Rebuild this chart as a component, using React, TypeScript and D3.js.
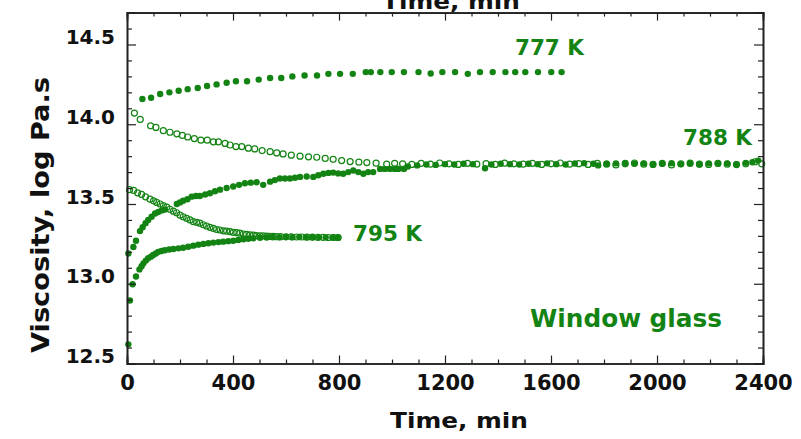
import React, { useEffect, useRef } from "react";
import { axisBottom, axisLeft, axisRight, axisTop, scaleLinear, select, range } from "d3";

// [time (min), viscosity (log Pa.s)]
const up777: [number, number][] = [
  [58, 14.158], [91, 14.166], [125, 14.19], [160, 14.2], [195, 14.21], [229, 14.22], [267, 14.227],
  [302, 14.24], [338, 14.25], [376, 14.26], [411, 14.27], [453, 14.27], [497, 14.28], [540, 14.29],
  [582, 14.29], [624, 14.3], [670, 14.306], [717, 14.306], [760, 14.316], [804, 14.316], [852, 14.316],
  [901, 14.327], [920, 14.327], [956, 14.327], [999, 14.327], [1045, 14.327], [1100, 14.327],
  [1146, 14.318], [1190, 14.327], [1238, 14.327], [1286, 14.316], [1332, 14.327], [1380, 14.327],
  [1428, 14.327], [1465, 14.327], [1503, 14.327], [1551, 14.327], [1601, 14.327], [1640, 14.327],
];

const down788: [number, number][] = [
  [28, 14.07], [50, 14.03], [89, 13.99], [109, 13.98], [137, 13.96], [162, 13.95], [188, 13.94],
  [209, 13.93], [229, 13.92], [254, 13.91], [279, 13.9], [303, 13.9], [326, 13.89], [345, 13.89],
  [370, 13.88], [389, 13.87], [411, 13.86], [433, 13.86], [458, 13.85], [482, 13.845], [510, 13.835],
  [540, 13.828], [565, 13.82], [589, 13.814], [620, 13.806], [653, 13.8], [685, 13.796], [716, 13.793],
  [748, 13.786], [778, 13.78], [810, 13.772], [842, 13.766], [875, 13.762], [905, 13.76], [940, 13.756],
  [980, 13.75], [1010, 13.755], [1040, 13.752], [1075, 13.748], [1110, 13.755], [1145, 13.75],
  [1180, 13.757], [1215, 13.752], [1250, 13.748], [1285, 13.755], [1320, 13.75], [1355, 13.753],
  [1390, 13.748], [1425, 13.756], [1460, 13.752], [1495, 13.75], [1530, 13.755], [1565, 13.748],
  [1600, 13.752], [1635, 13.757], [1670, 13.75], [1705, 13.753], [1740, 13.748], [1775, 13.755],
  [1810, 13.75], [1845, 13.745], [1880, 13.752], [1915, 13.757], [1950, 13.75], [1985, 13.748],
  [2020, 13.755], [2055, 13.745], [2090, 13.752], [2125, 13.756], [2160, 13.75], [2195, 13.748],
  [2230, 13.755], [2265, 13.75], [2300, 13.747], [2335, 13.752], [2370, 13.765], [2395, 13.752],
];

const up788: [number, number][] = [
  [5, 13.19], [24, 13.23], [34, 13.27], [49, 13.33], [59, 13.354], [70, 13.38], [80, 13.4], [93, 13.42],
  [106, 13.44], [118, 13.45], [131, 13.46], [143, 13.465], [188, 13.5], [200, 13.51], [212, 13.52],
  [228, 13.53], [244, 13.546], [260, 13.55], [275, 13.55], [295, 13.56], [313, 13.567], [332, 13.58],
  [351, 13.59], [376, 13.6], [401, 13.61], [423, 13.62], [445, 13.63], [467, 13.634], [489, 13.636],
  [514, 13.62], [540, 13.64], [558, 13.65], [577, 13.66], [596, 13.66], [615, 13.66], [634, 13.665],
  [653, 13.67], [678, 13.672], [703, 13.67], [722, 13.68], [741, 13.69], [760, 13.695], [778, 13.697],
  [797, 13.692], [816, 13.69], [835, 13.7], [854, 13.71], [873, 13.7], [892, 13.69], [910, 13.7],
  [929, 13.7], [955, 13.72], [973, 13.72], [992, 13.72], [1010, 13.72], [1024, 13.72], [1045, 13.72],
  [1060, 13.735], [1095, 13.742], [1130, 13.748], [1165, 13.745], [1200, 13.75], [1235, 13.748],
  [1270, 13.752], [1305, 13.75], [1351, 13.724], [1375, 13.748], [1410, 13.752], [1445, 13.75],
  [1480, 13.748], [1515, 13.752], [1550, 13.75], [1585, 13.755], [1620, 13.75], [1655, 13.748],
  [1690, 13.754], [1725, 13.756], [1760, 13.752], [1778, 13.742], [1810, 13.752], [1845, 13.755],
  [1880, 13.757], [1915, 13.752], [1950, 13.755], [1985, 13.75], [2020, 13.752], [2055, 13.756],
  [2090, 13.75], [2125, 13.753], [2160, 13.748], [2195, 13.755], [2230, 13.752], [2265, 13.755],
  [2300, 13.75], [2335, 13.758], [2360, 13.762], [2382, 13.772],
];

const down795: [number, number][] = [
  [10, 13.59], [25, 13.585], [40, 13.57], [55, 13.56], [70, 13.545], [87, 13.53], [100, 13.52],
  [112, 13.51], [125, 13.5], [137, 13.49], [150, 13.48], [162, 13.467], [175, 13.455], [187, 13.445],
  [200, 13.43], [212, 13.42], [225, 13.41], [238, 13.4], [250, 13.39], [263, 13.385], [275, 13.38],
  [288, 13.37], [300, 13.362], [313, 13.354], [326, 13.347], [338, 13.34], [351, 13.337], [364, 13.332],
  [376, 13.33], [389, 13.327], [401, 13.322], [414, 13.32], [426, 13.317], [439, 13.312], [451, 13.31],
  [464, 13.306], [477, 13.305], [489, 13.302], [502, 13.3], [514, 13.3], [527, 13.298], [540, 13.297],
  [552, 13.297], [565, 13.295], [580, 13.295], [600, 13.294], [620, 13.294], [640, 13.293],
  [660, 13.293], [680, 13.292], [700, 13.292], [720, 13.291], [740, 13.291], [760, 13.29],
  [780, 13.29], [797, 13.29],
];

const up795: [number, number][] = [
  [5, 12.62], [11, 12.895], [21, 12.997], [34, 13.045], [47, 13.09], [55, 13.11], [62, 13.128],
  [71, 13.145], [80, 13.16], [90, 13.17], [99, 13.18], [109, 13.19], [118, 13.2], [130, 13.205],
  [143, 13.21], [159, 13.215], [175, 13.218], [194, 13.222], [212, 13.226], [231, 13.232],
  [250, 13.239], [269, 13.245], [288, 13.25], [307, 13.254], [326, 13.258], [345, 13.261],
  [363, 13.264], [382, 13.267], [401, 13.27], [420, 13.275], [439, 13.279], [458, 13.282],
  [477, 13.285], [502, 13.288], [527, 13.29], [550, 13.292], [575, 13.292], [600, 13.293],
  [625, 13.292], [650, 13.293], [675, 13.292], [700, 13.292], [725, 13.291], [750, 13.291],
  [775, 13.29], [795, 13.29],
];

const xTicks = [0, 400, 800, 1200, 1600, 2000, 2400];
const yTicks = [12.5, 13.0, 13.5, 14.0, 14.5];

const labels = [
  { text: "777 K", t: 1464, v: 14.434 },
  { text: "788 K", t: 2098, v: 13.87 },
  { text: "795 K", t: 853, v: 13.268 },
];

const GREEN = "#138413";
const FONT = "'DejaVu Sans', Verdana, sans-serif";

const x = scaleLinear().domain([0, 2400]).range([127, 763]);
const y = scaleLinear().domain([12.5, 14.7]).range([363.5, 12.6]);

function Axes() {
  const ref = useRef<SVGGElement>(null);

  useEffect(() => {
    if (!ref.current) return;
    const g = select(ref.current);
    g.selectAll("*").remove();
    const [x0, x1] = x.range();
    const [y0, y1] = y.range();
    const xMinor = range(0, 2401, 100).filter((d) => d % 400 !== 0);
    const yMinor = range(126, 147).map((d) => d / 10).filter((d) => Math.round(d * 10) % 5 !== 0);

    const style = (sel: any) => {
      sel.selectAll(".domain").attr("stroke", "#222").attr("stroke-width", 1.6);
      sel.selectAll(".tick line").attr("stroke", "#222").attr("stroke-width", 1.2);
    };

    // bottom
    g.append("g").attr("transform", `translate(0,${y0})`)
      .call(axisBottom(x).tickValues(xMinor).tickSize(-4).tickFormat(() => "")).call(style);
    const bx = g.append("g").attr("transform", `translate(0,${y0})`)
      .call(axisBottom(x).tickValues(xTicks).tickSize(-8).tickPadding(12).tickFormat((d: any) => String(d)))
      .call(style);
    bx.selectAll("text").attr("font-family", FONT).attr("font-weight", "bold")
      .attr("font-size", 21).attr("fill", "#111").attr("dy", "0.71em");

    // top
    g.append("g").attr("transform", `translate(0,${y1})`)
      .call(axisTop(x).tickValues(xMinor).tickSize(-4).tickFormat(() => "")).call(style);
    g.append("g").attr("transform", `translate(0,${y1})`)
      .call(axisTop(x).tickValues(xTicks).tickSize(-8).tickFormat(() => "")).call(style);

    // left
    g.append("g").attr("transform", `translate(${x0},0)`)
      .call(axisLeft(y).tickValues(yMinor).tickSize(-5).tickFormat(() => "")).call(style);
    const ly = g.append("g").attr("transform", `translate(${x0},0)`)
      .call(axisLeft(y).tickValues(yTicks).tickSize(-9).tickPadding(12).tickFormat((d: any) => d.toFixed(1)))
      .call(style);
    ly.selectAll("text").attr("font-family", FONT).attr("font-weight", "bold")
      .attr("font-size", 20).attr("fill", "#111").attr("dy", "-0.05em");

    // right
    g.append("g").attr("transform", `translate(${x1},0)`)
      .call(axisRight(y).tickValues(yMinor).tickSize(-5).tickFormat(() => "")).call(style);
    g.append("g").attr("transform", `translate(${x1},0)`)
      .call(axisRight(y).tickValues(yTicks).tickSize(-9).tickFormat(() => "")).call(style);
  }, []);

  return <g ref={ref} />;
}

function Dots({ data, open }: { data: [number, number][]; open?: boolean }) {
  return (
    <g>
      {data.map(([t, v], i) => (
        <circle
          key={i}
          cx={x(t)}
          cy={y(v)}
          r={open ? 3 : 3.2}
          fill={open ? "none" : GREEN}
          stroke={GREEN}
          strokeWidth={open ? 1.2 : 0}
        />
      ))}
    </g>
  );
}

export default function App() {
  return (
    <svg
      width={801}
      height={439}
      style={{ position: "absolute", left: 0, top: 0, background: "#fff" }}
    >
      <text x={382} y={9} fontFamily={FONT} fontWeight="bold" fontSize={22} textLength={138}
        lengthAdjust="spacingAndGlyphs" fill="#111">Time, min</text>
      <Dots data={up795} />
      <Dots data={up788} />
      <Dots data={up777} />
      <Dots data={down795} open />
      <Dots data={down788} open />
      <Axes />
      {labels.map((l) => (
        <text key={l.text} x={x(l.t)} y={y(l.v)} fontFamily={FONT} fontWeight="bold" fontSize={21}
          fill={GREEN} textLength={69} lengthAdjust="spacingAndGlyphs">{l.text}</text>
      ))}
      <text x={530} y={327} fontFamily={FONT} fontWeight="bold" fontSize={25} fill={GREEN}
        textLength={192} lengthAdjust="spacingAndGlyphs">Window glass</text>
      <text x={390} y={428} fontFamily={FONT} fontWeight="bold" fontSize={22} textLength={138}
        lengthAdjust="spacingAndGlyphs" fill="#111">Time, min</text>
      <text transform="translate(49,215) rotate(-90)" textAnchor="middle" fontFamily={FONT}
        fontWeight="bold" fontSize={25} fill="#111" textLength={276} lengthAdjust="spacingAndGlyphs">
        Viscosity, log Pa.s
      </text>
    </svg>
  );
}
